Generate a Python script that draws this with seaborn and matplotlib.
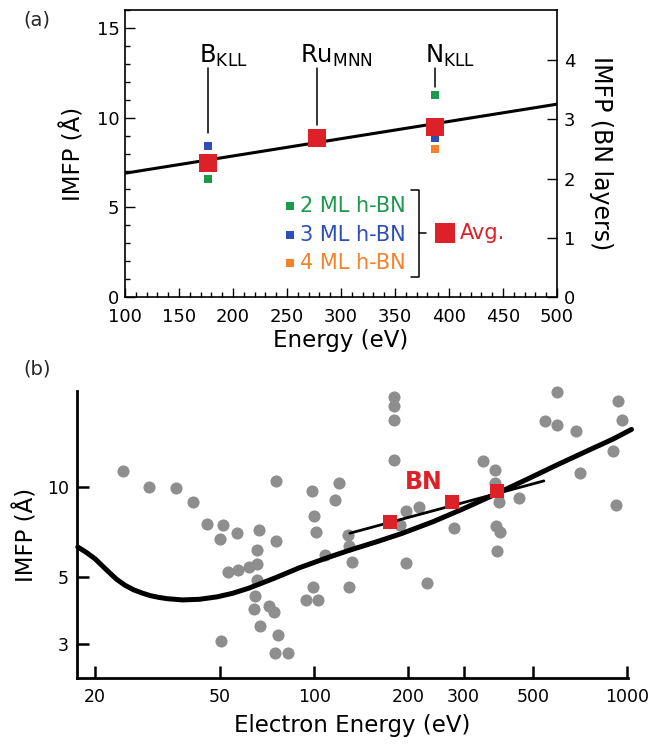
import numpy as np
import pandas as pd
import matplotlib
matplotlib.use("Agg")
import matplotlib.pyplot as plt
import seaborn as sns
from matplotlib.ticker import FixedLocator, MultipleLocator, NullLocator, NullFormatter

# ---------------- panel (a) data ----------------
peak_labels = ["B$_{KLL}$", "Ru$_{MNN}$", "N$_{KLL}$"]
peak_energy = [177, 278, 387]
avg_imfp = [7.46, 8.89, 9.50]
e_2ml = [177, 387]
imfp_2ml = [6.56, 11.27]
e_3ml = [177, 387]
imfp_3ml = [8.44, 8.85]
e_4ml = [387]
imfp_4ml = [8.25]
fit_energy = [100, 500]
fit_imfp = [6.90, 10.75]
legend_labels = ["2 ML h-BN", "3 ML h-BN", "4 ML h-BN"]
xticks_a = [100, 150, 200, 250, 300, 350, 400, 450, 500]
yticks_a = [0, 5, 10, 15]
yticks_a_right = [0, 1, 2, 3, 4]
layer_spacing = 3.3  # Å per BN layer

# ---------------- panel (b) data ----------------
gray_energy = [24.6, 29.6, 36.2, 41.1, 45.5, 51.2, 50.2, 56.7, 66.5, 75.8, 75.8,
               53.2, 57.3, 61.9, 65.8, 65.5, 65.5, 64.8, 64.2, 67.3, 71.5, 74.5,
               76.5, 75.2, 82.5, 50.3, 98.1, 100, 101, 108.5, 116.5, 120.3, 99.5,
               94.2, 102.8, 128.6, 129.5, 132, 129.5, 180, 180, 180, 180, 197, 216,
               188, 197, 229.5, 345, 377, 379, 389, 278.5, 380, 391, 383, 449, 545,
               595, 595, 687, 708, 902, 930, 963, 920]
gray_imfp = [11.3, 9.95, 9.88, 8.92, 7.52, 7.44, 6.69, 7.0, 7.15, 6.57, 10.47,
             5.22, 5.27, 5.42, 5.52, 6.17, 4.91, 4.32, 3.91, 3.44, 4.02, 3.84,
             3.2, 2.8, 2.8, 3.06, 9.68, 7.98, 7.05, 5.93, 9.0, 10.25, 4.64,
             4.2, 4.21, 6.88, 6.35, 5.62, 4.64, 19.9, 18.5, 16.65, 12.3, 8.27, 8.56,
             7.46, 5.57, 4.77, 12.2, 11.4, 10.3, 8.86, 7.28, 7.41, 7.05, 6.09, 9.18, 16.5,
             16.0, 20.6, 15.3, 11.1, 13.1, 19.3, 16.7, 8.7]
curve_energy = [17.6, 18.8, 20, 21.6, 23.4, 24.9, 26.5, 28.2, 30, 32, 34, 38, 43,
                49, 55, 62, 75, 90, 110, 130, 160, 190, 240, 300, 380, 480, 600,
                750, 900, 1030]
curve_imfp = [6.30, 6.03, 5.75, 5.32, 4.92, 4.70, 4.54, 4.43, 4.34, 4.28, 4.24,
              4.20, 4.22, 4.30, 4.42, 4.60, 4.97, 5.38, 5.80, 6.15, 6.58, 6.98,
              7.65, 8.45, 9.45, 10.6, 11.85, 13.2, 14.4, 15.5]
bn_fit_energy = [130, 541]
bn_fit_imfp = [7.0, 10.45]
bn_energy = [174, 276, 382]
bn_imfp = [7.6, 8.9, 9.65]
xticks_b = [20, 50, 100, 200, 300, 500, 1000]
yticks_b = [3, 5, 10]

# ---------------- style ----------------
sns.set_theme(style="ticks")
plt.rcParams["font.family"] = ["DejaVu Sans"]
plt.rcParams["mathtext.default"] = "regular"

GREEN = "#1b9a4b"
BLUE = "#2d4fb5"
ORANGE = "#f5822a"
RED = "#dc2128"
GRAY = "#8e8e8e"

fig = plt.figure(figsize=(6.52, 7.44), dpi=100)
fig.patch.set_facecolor("white")

# ================= panel (a) =================
ax = fig.add_axes([125 / 652, 1 - 297 / 744, 432 / 652, 287 / 744])
ax.set_facecolor("white")

sns.lineplot(x=fit_energy, y=fit_imfp, ax=ax, color="black", lw=2.2, estimator=None, sort=False)
sns.scatterplot(x=e_2ml, y=imfp_2ml, ax=ax, color=GREEN, marker="s", s=28, linewidth=0, zorder=3)
sns.scatterplot(x=e_3ml, y=imfp_3ml, ax=ax, color=BLUE, marker="s", s=28, linewidth=0, zorder=3)
sns.scatterplot(x=e_4ml, y=imfp_4ml, ax=ax, color=ORANGE, marker="s", s=28, linewidth=0, zorder=3)
sns.scatterplot(x=peak_energy, y=avg_imfp, ax=ax, color=RED, marker="s", s=170, linewidth=0, zorder=4)

# peak labels with leader lines
line_bottoms = [9.15, 9.6, 11.7]
text_left = [168.5, 262, 378]
for lab, e, yb, xl in zip(peak_labels, peak_energy, line_bottoms, text_left):
    ax.plot([e, e], [yb, 12.75], color="black", lw=1.1)
    ax.text(xl, 13.05, lab, fontsize=17.5, ha="left", va="baseline", color="black")

# legend (drawn in data space)
leg_y = [5.09, 3.46, 1.88]
leg_cols = [GREEN, BLUE, ORANGE]
for lab, yy, c in zip(legend_labels, leg_y, leg_cols):
    ax.scatter([253], [yy], color=c, marker="s", s=28, linewidth=0, zorder=3)
    ax.text(262, yy, lab, color=c, fontsize=15, ha="left", va="center")
# bracket
ax.plot([365, 372, 372, 365], [5.97, 5.97, 1.13, 1.13], color="black", lw=1.1)
ax.plot([372, 379], [3.57, 3.57], color="black", lw=1.1)
ax.scatter([396], [3.57], color=RED, marker="s", s=200, linewidth=0, zorder=4)
ax.text(410, 3.57, "Avg.", color=RED, fontsize=15, ha="left", va="center")

ax.set_xlim(100, 500)
ax.set_ylim(0, 16)
ax.xaxis.set_major_locator(FixedLocator(xticks_a))
ax.xaxis.set_minor_locator(MultipleLocator(10))
ax.yaxis.set_major_locator(FixedLocator(yticks_a))
ax.yaxis.set_minor_locator(MultipleLocator(1))
ax.set_xticklabels([str(v) for v in xticks_a])
ax.set_yticklabels([str(v) for v in yticks_a])
ax.tick_params(axis="both", which="both", direction="in", colors="black", labelsize=13)
ax.tick_params(axis="x", which="major", length=6.5, width=1.0, pad=8, top=False)
ax.tick_params(axis="x", which="minor", length=3.5, width=1.0, top=False)
ax.tick_params(axis="y", which="major", length=7, width=1.0, pad=4, right=False)
ax.tick_params(axis="y", which="minor", length=3.6, width=1.0, right=False)
for sp in ax.spines.values():
    sp.set_color("black")
    sp.set_linewidth(1.2)
    sp.set_visible(True)
ax.set_xlabel("Energy (eV)", fontsize=16.5, color="black", labelpad=2)
ax.set_ylabel("IMFP (Å)", fontsize=16.5, color="black", labelpad=8)

ax2 = ax.twinx()
ax2.set_ylim(0, 16 / layer_spacing)
ax2.yaxis.set_major_locator(FixedLocator(yticks_a_right))
ax2.yaxis.set_minor_locator(NullLocator())
ax2.set_yticklabels([str(v) for v in yticks_a_right])
ax2.tick_params(axis="y", which="major", direction="in", length=7, width=1.0, labelsize=13, pad=5, colors="black")
for sp in ax2.spines.values():
    sp.set_visible(False)
ax2.set_ylabel("IMFP (BN layers)", fontsize=17, color="black", rotation=270, labelpad=27)

fig.text(37 / 652, 1 - 20 / 744, "(a)", fontsize=14, ha="center", va="center")

# ================= panel (b) =================
bx = fig.add_axes([77 / 652, 1 - 678 / 744, 551 / 652, 287 / 744])
bx.set_facecolor("white")
bx.set_xscale("log")
bx.set_yscale("log")

sns.scatterplot(x=gray_energy, y=gray_imfp, ax=bx, color=GRAY, s=76, linewidth=0, zorder=2, clip_on=False)
sns.lineplot(x=curve_energy, y=curve_imfp, ax=bx, color="black", lw=3.6, estimator=None, sort=False,
             zorder=3, clip_on=False)
sns.lineplot(x=bn_fit_energy, y=bn_fit_imfp, ax=bx, color="black", lw=2.0, estimator=None, sort=False, zorder=3)
sns.scatterplot(x=bn_energy, y=bn_imfp, ax=bx, color=RED, marker="s", s=105, linewidth=0, zorder=4)
bx.text(224, 10.4, "BN", color=RED, fontsize=17, fontweight="bold", ha="center", va="center")

bx.set_xlim(17.5, 1004)
bx.set_ylim(2.31, 20.8)
bx.xaxis.set_major_locator(FixedLocator(xticks_b))
bx.xaxis.set_minor_locator(NullLocator())
bx.xaxis.set_minor_formatter(NullFormatter())
bx.set_xticklabels([str(v) for v in xticks_b])
bx.yaxis.set_major_locator(FixedLocator(yticks_b))
bx.yaxis.set_minor_locator(NullLocator())
bx.yaxis.set_minor_formatter(NullFormatter())
bx.set_yticklabels([str(v) for v in yticks_b])
bx.tick_params(axis="both", which="major", direction="in", length=8.5, width=1.8,
               labelsize=12.5, colors="black")
bx.tick_params(axis="x", pad=7)
bx.tick_params(axis="y", pad=6)
bx.spines["top"].set_visible(False)
bx.spines["right"].set_visible(False)
for s in ["left", "bottom"]:
    bx.spines[s].set_color("black")
    bx.spines[s].set_linewidth(2.0)
bx.set_xlabel("Electron Energy (eV)", fontsize=16.5, color="black", labelpad=6)
bx.set_ylabel("IMFP (Å)", fontsize=16.5, color="black", labelpad=6)

fig.text(37 / 652, 1 - 369 / 744, "(b)", fontsize=14, ha="center", va="center")

fig.savefig("out.png", dpi=100, facecolor="white")
